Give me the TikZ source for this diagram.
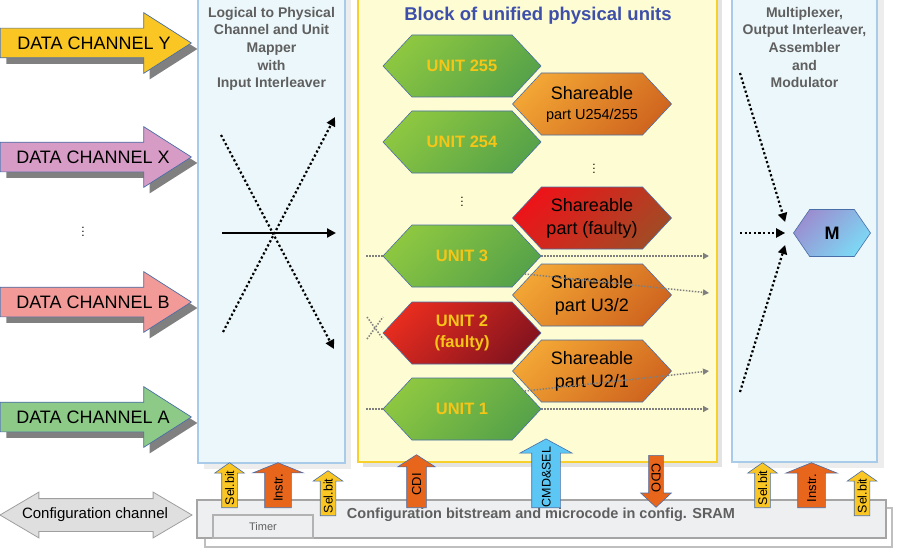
\documentclass[tikz,border=0pt]{standalone}
\usepackage{fontspec}
\setmainfont{Liberation Sans}
\usetikzlibrary{arrows.meta,shapes.arrows,shapes.symbols,shadows}

\definecolor{edgeblue}{HTML}{4A6EA8}
\definecolor{shadowgray}{HTML}{808080}
\definecolor{chY}{HTML}{F9C623}
\definecolor{chX}{HTML}{D79CC6}
\definecolor{chB}{HTML}{F19A98}
\definecolor{chA}{HTML}{8DCA87}
\definecolor{mapfill}{HTML}{EBF7FA}
\definecolor{mapedge}{HTML}{A9CBEA}
\definecolor{blkfill}{HTML}{FEFCD3}
\definecolor{blkedge}{HTML}{F7D02C}
\definecolor{cfgfill}{HTML}{EEEFF1}
\definecolor{cfgedge}{HTML}{A5A5A5}
\definecolor{titlegray}{HTML}{5F5F5F}
\definecolor{titleblue}{HTML}{3D4FAA}
\definecolor{unityellow}{HTML}{F5C518}
\definecolor{greenA}{HTML}{8DC741}
\definecolor{greenB}{HTML}{57A349}
\definecolor{redA}{HTML}{E62C1F}
\definecolor{redB}{HTML}{86141E}
\definecolor{orangeA}{HTML}{F2A534}
\definecolor{orangeB}{HTML}{D0661F}
\definecolor{faultA}{HTML}{EC1419}
\definecolor{faultB}{HTML}{A34A25}
\definecolor{mA}{HTML}{9B8ED0}
\definecolor{mB}{HTML}{7CD9F5}
\definecolor{selfill}{HTML}{F9C623}
\definecolor{instfill}{HTML}{E8651C}
\definecolor{cmdfill}{HTML}{5CC7F4}
\definecolor{dotgray}{HTML}{7F7F7F}

\begin{document}
\begin{tikzpicture}
[x=1pt,y=-1pt,
chan/.style={single arrow, draw=edgeblue, line width=.7pt, minimum height=191pt, minimum width=60pt,
  inner xsep=0pt, inner ysep=14.5pt, single arrow head extend=15.5pt, single arrow tip angle=65, anchor=tail,
  drop shadow={shadow xshift=6pt,shadow yshift=-6pt,fill=shadowgray,opacity=1}},
chtext/.style={font=\fontsize{18}{20}\selectfont},
title/.style={anchor=north, align=center, inner sep=0pt, text=titlegray, font=\bfseries\fontsize{14}{17.6}\selectfont},
grad/.style 2 args={top color=#1, bottom color=#2, shading angle=45},
hex/.style={signal, signal to=west and east, draw=edgeblue, line width=.6pt, inner sep=0pt, align=center},
unit/.style={hex, minimum width=158pt, minimum height=62pt, signal pointer angle=94, grad={greenA}{greenB},
  text=unityellow, font=\bfseries\fontsize{16.5}{21}\selectfont},
share/.style={hex, minimum width=159pt, minimum height=62pt, signal pointer angle=94, grad={orangeA}{orangeB},
  font=\fontsize{18}{23}\selectfont},
ctrl/.style={single arrow, draw=edgeblue, line width=.6pt, inner xsep=0pt, anchor=tail,
  text height=9pt, text depth=0pt, font=\fontsize{13}{13}\selectfont},
up/.style={ctrl, rotate=90},
selbit/.style={up, fill=selfill, minimum height=45pt, minimum width=29pt, inner ysep=3pt,
  single arrow head extend=7pt, single arrow tip angle=110, font=\fontsize{12.5}{13}\selectfont},
instr/.style={up, fill=instfill, minimum height=45pt, minimum width=50pt, inner ysep=8.5pt,
  single arrow head extend=12pt, single arrow tip angle=136},
blk/.style={line width=2.2pt, dash pattern=on 2.2pt off 2.4pt, -{Triangle[length=9pt,width=9pt]}},
gry/.style={draw=dotgray, line width=1.5pt, dash pattern=on 1.5pt off 1.5pt},
gryarr/.style={gry, -{Triangle[length=6pt,width=6pt]}},
dots/.style={font=\fontsize{12}{12}\selectfont}]

\useasboundingbox (0,0) rectangle (904,559);
\clip (0,0) rectangle (904,559);

% the three column boxes
\fill[gray!14] (204,-5) rectangle (351,469);
\draw[line width=2pt, draw=mapedge, fill=mapfill] (198,-5) rectangle (345,463);
\fill[gray!22] (363,-5) rectangle (722,467);
\draw[line width=2.5pt, draw=blkedge, fill=blkfill] (358,-5) rectangle (717,462);
\fill[gray!14] (738,-5) rectangle (884,468);
\draw[line width=2pt, draw=mapedge, fill=mapfill] (732,-5) rectangle (877,462);

\node (maptitle) [title] at (271.5,7) {Logical to Physical\\Channel and Unit\\Mapper\\with\\Input Interleaver};
\node (muxtitle) [title] at (804.5,7) {Multiplexer,\\Output Interleaver,\\Assembler\\and\\Modulator};
\node (blktitle) [anchor=base, text=titleblue, font=\bfseries\fontsize{18.5}{20}\selectfont] at (538,20.5) {Block of unified physical units};

% data channels
\node (chy) [chan, fill=chY] at (0,43) {};
\node (chx) [chan, fill=chX] at (0,157) {};
\node (chb) [chan, fill=chB] at (0,302) {};
\node (cha) [chan, fill=chA] at (0,417) {};
\node (ty) [chtext] at (94,43) {DATA CHANNEL Y};
\node (tx) [chtext] at (93,157) {DATA CHANNEL X};
\node (tb) [chtext] at (93,302) {DATA CHANNEL B};
\node (ta) [chtext] at (93,417) {DATA CHANNEL A};
\node (dl) [dots] at (83,229) {$\vdots$};

% mapper crossing
\coordinate (mapa1) at (221,135);
\coordinate (mapa2) at (334,349);
\coordinate (mapb1) at (223,332);
\coordinate (mapb2) at (335,117);
\coordinate (mapc1) at (222,233);
\coordinate (mapc2) at (336,233);
\draw[blk] (mapa1) -- (mapa2);
\draw[blk] (mapb1) -- (mapb2);
\draw[line width=2.2pt, -{Triangle[length=9pt,width=9pt]}] (mapc1) -- (mapc2);

% units
\node (u255) [unit] at (462,66) {UNIT 255};
\node (u254) [unit] at (462,142) {UNIT 254};
\node (du) [dots] at (462,199) {$\vdots$};
\node (u3) [unit] at (462,256) {UNIT 3};
\node (u2) [unit, grad={redA}{redB}] at (462,333) {UNIT 2\\(faulty)};
\node (u1) [unit] at (462,409) {UNIT 1};

\node (s255) [share] at (592,104) {Shareable\\[-3pt]{\fontsize{14.5}{17}\selectfont part U254/255}};
\node (ds) [dots] at (594,166) {$\vdots$};
\node (sf) [share, grad={faultA}{faultB}] at (592,218) {Shareable\\part (faulty)};
\node (s32) [share] at (592,295) {Shareable\\part U3/2};
\node (s21) [share] at (592,371) {Shareable\\part U2/1};

\coordinate (u3in) at (366,256);
\coordinate (u3out) at (709,256);
\coordinate (s32out) at (709,293);
\coordinate (u1in) at (366,409);
\coordinate (u1out) at (709,409);
\coordinate (s21out) at (709,371);
\draw[gry] (u3in) -- (u3.west);
\draw[gryarr] (u3.east) -- (u3out);
\draw[gryarr] (u3.-16) -- (s32out);
\draw[gry] (u1in) -- (u1.west);
\draw[gryarr] (u1.east) -- (u1out);
\draw[gryarr] (u1.16) -- (s21out);
\coordinate (u2x) at (375,328);
\draw[gry] ([shift={(-8,-11)}]u2x) -- ([shift={(8,11)}]u2x);
\draw[gry] ([shift={(-8,11)}]u2x) -- ([shift={(8,-11)}]u2x);

% modulator
\node (m) [hex, minimum width=77pt, minimum height=47pt, signal pointer angle=111, grad={mA}{mB},
  font=\bfseries\fontsize{18}{20}\selectfont] at (832,233) {M};
\coordinate (mx1) at (740,73);
\coordinate (mx2) at (740,233);
\coordinate (mx3) at (740,392);
\draw[blk] (mx1) -- ([shift={(-8,-11)}]m.west);
\draw[blk] (mx2) -- ([shift={(-8,0)}]m.west);
\draw[blk] (mx3) -- ([shift={(-8,12)}]m.west);

% configuration memory
\draw[line width=2pt, draw=gray!50, fill=white] (205,508) rectangle (892,547);
\draw[line width=2.5pt, draw=cfgedge, fill=cfgfill] (197,500) rectangle (886,538);
\node (timer) [draw=gray!60, line width=2pt, fill=cfgfill, minimum width=100pt, minimum height=23pt, inner sep=0pt,
  text=titlegray, font=\fontsize{11}{12}\selectfont] at (263,526.5) {Timer};
\node (cfgtext) [text=titlegray, font=\bfseries\fontsize{14.5}{16}\selectfont] at (541,515)
  {Configuration bitstream and microcode in config. SRAM};
\node (cfgch) [double arrow, draw=gray!75, fill=gray!25, line width=.8pt, minimum height=192pt, minimum width=45pt,
  inner xsep=0pt, inner ysep=16pt, double arrow head extend=6.5pt, double arrow tip angle=61] at (96,515) {};
\node (cfgchtext) [font=\fontsize{15}{16}\selectfont] at (95,515) {Configuration channel};

% control arrows
\node (sbl1) [selbit] at (229.5,508) {Sel.bit};
\node (inl) [instr] at (278,508) {Instr.};
\node (sbl2) [selbit] at (328,516) {Sel.bit};
\node (cdi) [up, fill=instfill, minimum height=53pt, minimum width=37pt, inner ysep=5pt,
  single arrow head extend=9pt, single arrow tip angle=114] at (416.5,508) {CDI};
\node (cmd) [up, fill=cmdfill, minimum height=67pt, minimum width=52pt, inner ysep=9.5pt,
  single arrow head extend=12pt, single arrow tip angle=123, font=\fontsize{12.5}{13}\selectfont] at (546,508) {CMD\&SEL};
\node (cdo) [ctrl, rotate=-90, fill=instfill, minimum height=52pt, minimum width=30pt, inner ysep=2.5pt,
  single arrow head extend=8pt, single arrow tip angle=94] at (656,455) {CDO};
\node (sbr1) [selbit] at (762.5,508) {Sel.bit};
\node (inr) [instr, minimum width=51pt, inner ysep=9pt] at (811.5,508) {Instr.};
\node (sbr2) [selbit] at (862,516) {Sel.bit};

\end{tikzpicture}
\end{document}
